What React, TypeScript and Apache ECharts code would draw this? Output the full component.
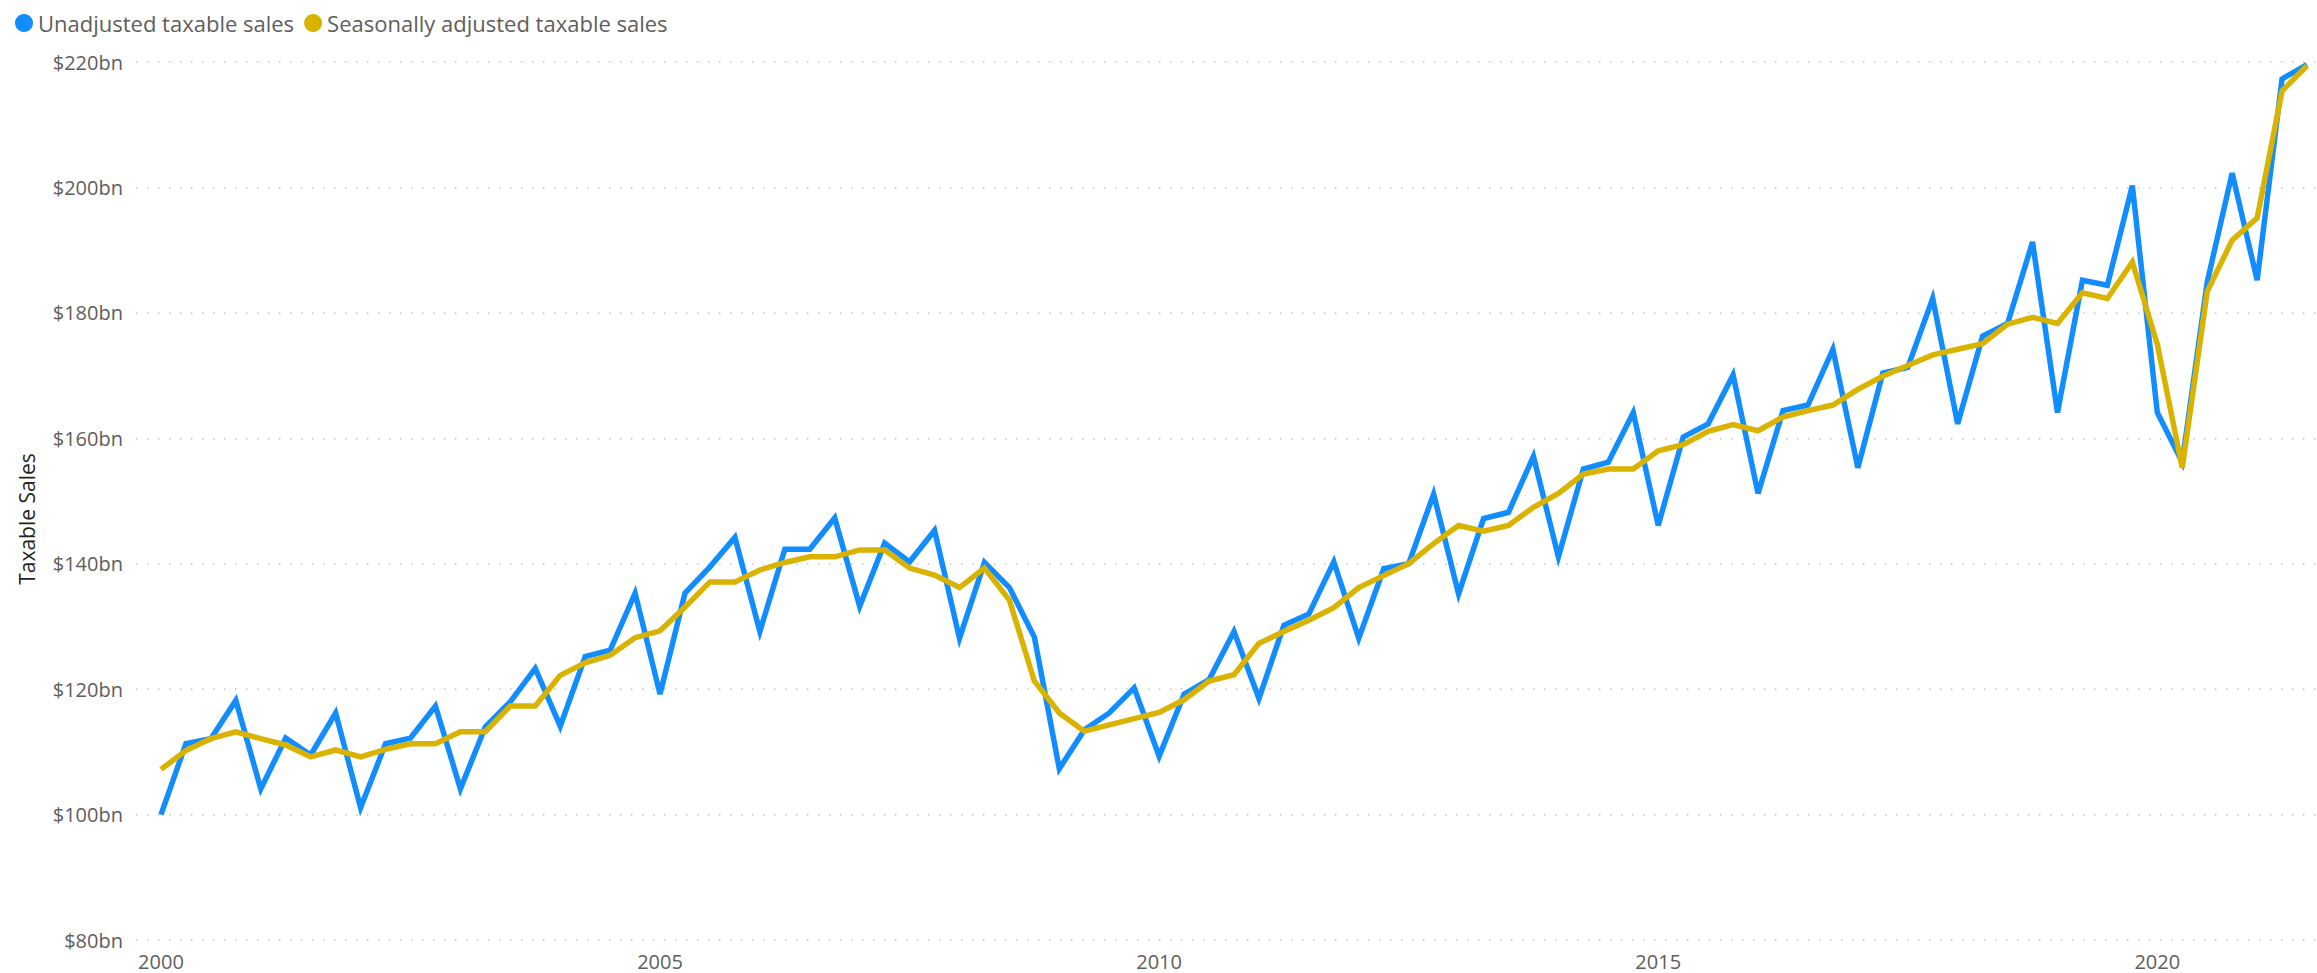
import React, { useEffect, useRef } from "react";
import * as echarts from "echarts";

// Quarterly periods 2000 Q1 .. 2021 Q3
const years = Array.from({ length: 22 }, (_, i) => 2000 + i);
const quarterNames = ["Q1", "Q2", "Q3", "Q4"];
const periods: string[] = years
  .flatMap((y) => quarterNames.map((q) => `${y} ${q}`))
  .slice(0, 87);

const xTickLabels = ["2000", "2005", "2010", "2015", "2020"];
const yTickValues = [80, 100, 120, 140, 160, 180, 200, 220];

// $bn
const unadjusted = [
  100.0, 111.3, 112.1, 118.2, 104.1, 112.2, 109.5, 116.2, 101.1, 111.3,
  112.2, 117.3, 104.1, 114.0, 118.0, 123.3, 114.1, 125.2, 126.2, 135.3,
  119.2, 135.3, 139.5, 144.2, 129.2, 142.3, 142.3, 147.3, 133.2, 143.3,
  140.3, 145.3, 128.1, 140.2, 136.2, 128.3, 107.3, 113.5, 116.2, 120.2,
  109.3, 119.2, 121.5, 129.2, 118.5, 130.2, 132.0, 140.3, 128.1, 139.2,
  140.0, 151.1, 135.2, 147.2, 148.2, 157.1, 141.1, 155.1, 156.2, 164.1,
  146.1, 160.2, 162.3, 170.1, 151.2, 164.4, 165.3, 174.2, 155.3, 170.4,
  171.3, 182.3, 162.3, 176.3, 178.3, 191.3, 164.1, 185.2, 184.4, 200.3,
  164.1, 156.2, 184.9, 202.3, 185.2, 217.3, 219.6,
];

const seasonallyAdjusted = [
  107.2, 110.2, 112.1, 113.2, 112.1, 111.1, 109.2, 110.3, 109.2, 110.4,
  111.3, 111.3, 113.2, 113.2, 117.3, 117.3, 122.2, 124.2, 125.4, 128.2,
  129.3, 133.1, 137.1, 137.1, 139.0, 140.2, 141.1, 141.1, 142.2, 142.2,
  139.3, 138.2, 136.2, 139.3, 134.2, 121.3, 116.2, 113.3, 114.3, 115.3,
  116.3, 118.3, 121.3, 122.3, 127.3, 129.2, 131.0, 133.0, 136.2, 138.1,
  140.0, 143.2, 146.1, 145.2, 146.1, 149.0, 151.2, 154.3, 155.1, 155.1,
  158.0, 159.0, 161.1, 162.2, 161.2, 163.4, 164.4, 165.3, 167.8, 169.9,
  171.6, 173.3, 174.2, 175.1, 178.2, 179.3, 178.3, 183.2, 182.3, 188.1,
  175.0, 155.3, 183.4, 191.6, 195.1, 215.4, 219.4,
];

const seriesNames = ["Unadjusted taxable sales", "Seasonally adjusted taxable sales"];
const colors = ["#118DFF", "#D9B300"];
const FONT = "'Open Sans', 'Noto Sans', sans-serif";

export default function App() {
  const ref = useRef<HTMLDivElement>(null);
  useEffect(() => {
    if (!ref.current) return;
    const chart = echarts.init(ref.current, null, { renderer: "svg" });
    const toPoints = (arr: number[]) => arr.map((v, i) => [i, v]);
    chart.setOption({
      animation: false,
      backgroundColor: "#ffffff",
      color: colors,
      textStyle: { fontFamily: FONT },
      legend: {
        left: 10,
        top: 7,
        icon: "circle",
        itemWidth: 18,
        itemHeight: 18,
        itemGap: 10,
        textStyle: { fontFamily: FONT, fontSize: 22, color: "#605E5C" },
        data: seriesNames,
      },
      grid: { left: 136, right: 0, top: 62, bottom: 33, containLabel: false },
      xAxis: {
        type: "value",
        min: -1,
        max: 86.4,
        interval: 1,
        axisLine: { show: false },
        axisTick: { show: false },
        splitLine: { show: false },
        axisLabel: {
          fontFamily: FONT,
          fontSize: 20,
          color: "#605E5C",
          margin: 11,
          showMaxLabel: false,
          formatter: (v: number) => {
            if (!Number.isInteger(v) || v < 0 || v >= periods.length) return "";
            const year = periods[v].slice(0, 4);
            return v % 4 === 0 && xTickLabels.includes(year) ? year : "";
          },
        },
      },
      yAxis: {
        type: "value",
        min: yTickValues[0],
        max: yTickValues[yTickValues.length - 1],
        interval: 20,
        axisLine: { show: false },
        axisTick: { show: false },
        axisLabel: {
          fontFamily: FONT,
          fontSize: 20,
          color: "#605E5C",
          margin: 13,
          formatter: (v: number) => `$${v}bn`,
        },
        splitLine: {
          show: true,
          lineStyle: { color: "#C8C6C4", width: 1.5, type: [1.5, 9.5] },
        },
      },
      graphic: [
        {
          type: "text",
          x: 27,
          y: 519,
          rotation: Math.PI / 2,
          style: {
            text: "Taxable Sales",
            fontFamily: FONT,
            fontSize: 21,
            fill: "#252423",
            align: "center",
            verticalAlign: "middle",
          },
        },
      ],
      series: [
        {
          name: seriesNames[0],
          type: "line",
          data: toPoints(unadjusted),
          symbol: "none",
          lineStyle: { width: 5.5, color: colors[0], join: "miter", miterLimit: 4 },
          z: 2,
        },
        {
          name: seriesNames[1],
          type: "line",
          data: toPoints(seasonallyAdjusted),
          symbol: "none",
          lineStyle: { width: 5.5, color: colors[1], join: "miter", miterLimit: 4 },
          z: 3,
        },
      ],
    });
    return () => chart.dispose();
  }, []);
  return (
    <div
      ref={ref}
      style={{ position: "fixed", left: 0, top: 0, width: 2317, height: 973, background: "#fff" }}
    />
  );
}
